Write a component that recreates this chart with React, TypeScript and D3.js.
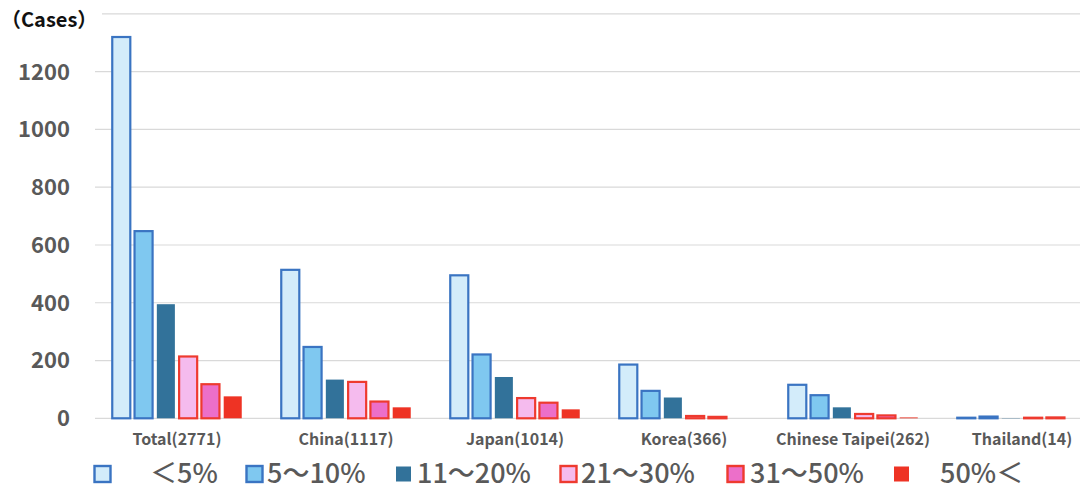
import React, { useRef, useEffect } from 'react';
import * as d3 from 'd3';

const categories = ['Total(2771)', 'China(1117)', 'Japan(1014)', 'Korea(366)', 'Chinese Taipei(262)', 'Thailand(14)'];
const seriesNames = ['＜5%', '5～10%', '11～20%', '21～30%', '31～50%', '50%＜'];
const below5 = [1320, 514, 495, 186, 116, 2];
const from5to10 = [648, 247, 221, 95, 80, 6];
const from11to20 = [395, 134, 143, 72, 38, 1];
const from21to30 = [214, 126, 70, 8, 15, 2];
const from31to50 = [118, 58, 54, 5, 10, 3];
const above50 = [76, 38, 31, 0, 3, 0];
const yTicks = [0, 200, 400, 600, 800, 1000, 1200, 1400];

const series = [below5, from5to10, from11to20, from21to30, from31to50, above50];
const fills = ['#D3ECFA', '#7FC8F0', '#32729A', '#F5BBEE', '#EC6FC9', '#EE3324'];
const strokes = ['#3A74C2', '#3A74C2', 'none', '#EE3A2F', '#EE3A2F', 'none'];

const FONT = '"Noto Sans CJK JP", "Noto Sans", sans-serif';

const App = () => {
    const ref = useRef(null);

    useEffect(() => {
        const svg = d3.select(ref.current);
        svg.selectAll('*').remove();

        const x0 = d3.scaleBand().domain(categories).range([92.5, 1106.5]);
        const x1 = d3.scaleBand().domain(seriesNames).range([0, 129.5]).paddingInner(0.19);
        const groupOffset = (x0.bandwidth() - 129.5) / 2;
        const y = d3.scaleLinear().domain([0, 1400]).range([418.3, 13.9]);

        // gridlines
        svg.append('g')
            .selectAll('line')
            .data(yTicks)
            .join('line')
            .attr('x1', 95)
            .attr('x2', 1080)
            .attr('y1', d => y(d))
            .attr('y2', d => y(d))
            .attr('stroke', '#D9D9D9')
            .attr('stroke-width', 1.2);

        // y tick labels
        svg.append('g')
            .selectAll('text')
            .data(yTicks.filter(d => d < 1400))
            .join('text')
            .attr('x', 70)
            .attr('y', d => y(d))
            .attr('dy', '0.36em')
            .attr('text-anchor', 'end')
            .attr('font-family', FONT)
            .attr('font-weight', 700)
            .attr('font-size', 22)
            .attr('fill', '#595959')
            .text(d => d);

        // cases label
        svg.append('rect').attr('x', 0).attr('y', 0).attr('width', 102).attr('height', 34).attr('fill', '#fff');
        svg.append('text')
            .attr('x', 1)
            .attr('y', 20)
            .attr('dy', '0.36em')
            .attr('font-family', FONT)
            .attr('font-weight', 700)
            .attr('font-size', 20)
            .attr('fill', '#111')
            .text('（Cases）');

        // bars
        series.forEach((values, si) => {
            const bordered = strokes[si] !== 'none';
            svg.append('g')
                .selectAll('rect')
                .data(values)
                .join('rect')
                .attr('x', (d, i) => x0(categories[i]) + groupOffset + x1(seriesNames[si]))
                .attr('width', x1.bandwidth())
                .attr('y', d => y(d))
                .attr('height', d => Math.max(0, y(0) - y(d)))
                .attr('fill', fills[si])
                .attr('stroke', strokes[si])
                .attr('stroke-width', bordered ? 2.2 : 0);
        });

        // category labels
        svg.append('g')
            .selectAll('text')
            .data(categories)
            .join('text')
            .attr('x', d => x0(d) + x0.bandwidth() / 2)
            .attr('y', 439)
            .attr('dy', '0.36em')
            .attr('text-anchor', 'middle')
            .attr('font-family', FONT)
            .attr('font-weight', 600)
            .attr('font-size', 16)
            .attr('fill', '#595959')
            .text(d => d);

        // legend
        const legendX = [93, 245, 395, 559, 726, 893];
        const textX = [150, 267, 417, 581, 750, 940];
        const legend = svg.append('g');
        seriesNames.forEach((name, si) => {
            const bordered = strokes[si] !== 'none';
            const size = bordered ? 16 : 15;
            legend.append('rect')
                .attr('x', legendX[si] + (bordered ? 1.5 : 1))
                .attr('y', 474 - size / 2)
                .attr('width', size)
                .attr('height', size)
                .attr('fill', fills[si])
                .attr('stroke', strokes[si])
                .attr('stroke-width', bordered ? 2.4 : 0);
            legend.append('text')
                .attr('x', textX[si])
                .attr('y', 473)
                .attr('dy', '0.36em')
                .attr('font-family', FONT)
                .attr('font-weight', 500)
                .attr('font-size', 27)
                .attr('fill', '#595959')
                .text(name);
        });
    }, []);

    return (
        <svg
            ref={ref}
            width={1080}
            height={495}
            style={{ position: 'absolute', left: 0, top: 0, background: '#fff' }}
        ></svg>
    );
};

export default App;
